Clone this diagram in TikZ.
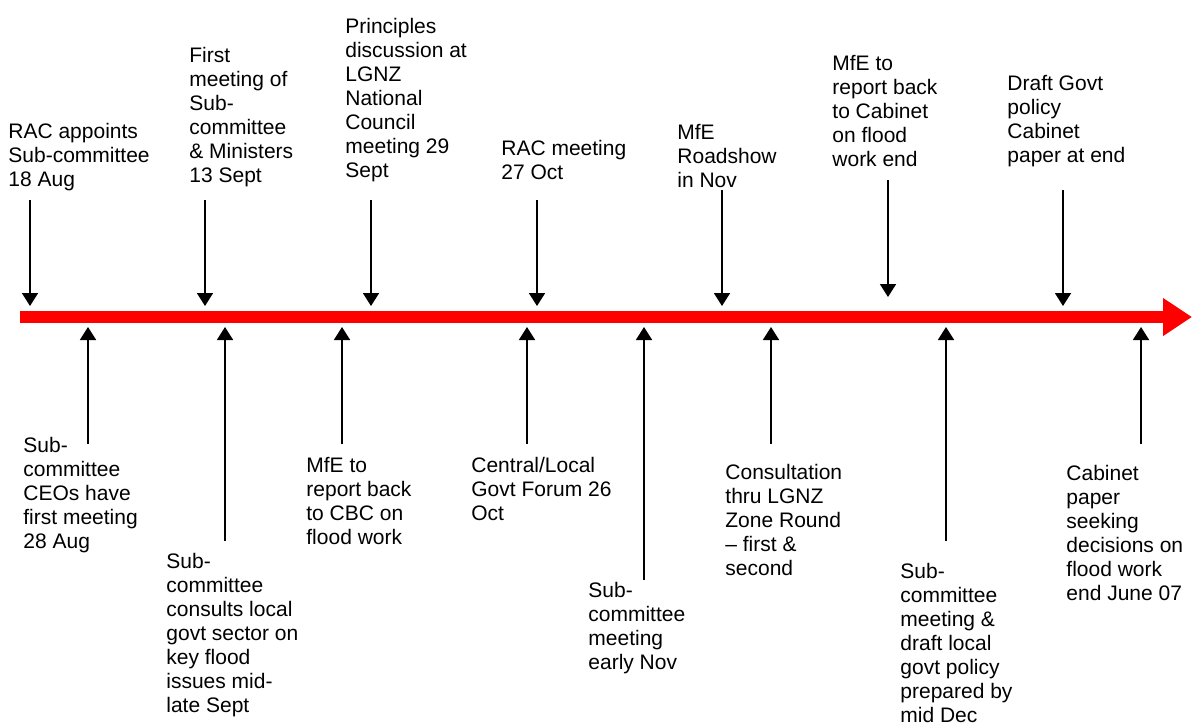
\documentclass[tikz,border=0pt]{standalone}
\usepackage{fontspec}
\setmainfont{Liberation Sans}
\usetikzlibrary{arrows.meta}

\begin{document}
\begin{tikzpicture}[x=0.5pt,y=-0.5pt,
  lbl/.style={anchor=north west,inner sep=0pt,align=left,font=\fontsize{10.5pt}{12pt}\selectfont},
  evt/.style={line width=0.9pt,-{Triangle[length=6.5pt,width=8pt]}},
  timeline/.style={line width=6pt,red,-{Triangle[length=14.5pt,width=18pt]}}]
\useasboundingbox (0,0) rectangle (1192,724);
\coordinate (start) at (20,317);
\coordinate (finish) at (1192,317);
\draw [timeline] (start) -- (finish);
\node [lbl] (rac) at (8,123) {RAC appoints\\Sub-committee\\18 Aug};
\coordinate (rac top) at (30,200);
\coordinate (rac tip) at (30,306);
\draw [evt] (rac top) -- (rac tip);
\node [lbl] (firstmeet) at (189,47) {First\\meeting of\\Sub-\\committee\\\& Ministers\\13 Sept};
\coordinate (firstmeet top) at (205,200);
\coordinate (firstmeet tip) at (205,306);
\draw [evt] (firstmeet top) -- (firstmeet tip);
\node [lbl] (principles) at (345,18) {Principles\\discussion at\\LGNZ\\National\\Council\\meeting 29\\Sept};
\coordinate (principles top) at (371,200);
\coordinate (principles tip) at (371,306);
\draw [evt] (principles top) -- (principles tip);
\node [lbl] (racmeet) at (501,140) {RAC meeting\\27 Oct};
\coordinate (racmeet top) at (537,200);
\coordinate (racmeet tip) at (537,306);
\draw [evt] (racmeet top) -- (racmeet tip);
\node [lbl] (roadshow) at (677,124) {MfE\\Roadshow\\in Nov};
\coordinate (roadshow top) at (722,190);
\coordinate (roadshow tip) at (722,306);
\draw [evt] (roadshow top) -- (roadshow tip);
\node [lbl] (cabreport) at (832,55) {MfE to\\report back\\to Cabinet\\on flood\\work end};
\coordinate (cabreport top) at (888,180);
\coordinate (cabreport tip) at (888,297);
\draw [evt] (cabreport top) -- (cabreport tip);
\node [lbl] (draftpolicy) at (1007,75) {Draft Govt\\policy\\Cabinet\\paper at end};
\coordinate (draftpolicy top) at (1063,190);
\coordinate (draftpolicy tip) at (1063,306);
\draw [evt] (draftpolicy top) -- (draftpolicy tip);
\node [lbl] (ceos) at (23,437) {Sub-\\committee\\CEOs have\\first meeting\\28 Aug};
\coordinate (ceos foot) at (88,444);
\coordinate (ceos tip) at (88,327);
\draw [evt] (ceos foot) -- (ceos tip);
\node [lbl] (consults) at (166,553) {Sub-\\committee\\consults local\\govt sector on\\key flood\\issues mid-\\late Sept};
\coordinate (consults foot) at (225,541);
\coordinate (consults tip) at (225,327);
\draw [evt] (consults foot) -- (consults tip);
\node [lbl] (cbcreport) at (306,457) {MfE to\\report back\\to CBC on\\flood work};
\coordinate (cbcreport foot) at (342,444);
\coordinate (cbcreport tip) at (342,327);
\draw [evt] (cbcreport foot) -- (cbcreport tip);
\node [lbl] (forum) at (471,457) {Central/Local\\Govt Forum 26\\Oct};
\coordinate (forum foot) at (527,444);
\coordinate (forum tip) at (527,327);
\draw [evt] (forum foot) -- (forum tip);
\node [lbl] (novmeet) at (588,582) {Sub-\\committee\\meeting\\early Nov};
\coordinate (novmeet foot) at (644,580);
\coordinate (novmeet tip) at (644,327);
\draw [evt] (novmeet foot) -- (novmeet tip);
\node [lbl] (zoneround) at (725,464) {Consultation\\thru LGNZ\\Zone Round\\– first \&\\second};
\coordinate (zoneround foot) at (771,444);
\coordinate (zoneround tip) at (771,327);
\draw [evt] (zoneround foot) -- (zoneround tip);
\node [lbl] (decmeet) at (900,563) {Sub-\\committee\\meeting \&\\draft local\\govt policy\\prepared by\\mid Dec};
\coordinate (decmeet foot) at (946,541);
\coordinate (decmeet tip) at (946,327);
\draw [evt] (decmeet foot) -- (decmeet tip);
\node [lbl] (cabpaper) at (1066,465) {Cabinet\\paper\\seeking\\decisions on\\flood work\\end June 07};
\coordinate (cabpaper foot) at (1141,444);
\coordinate (cabpaper tip) at (1141,327);
\draw [evt] (cabpaper foot) -- (cabpaper tip);
\end{tikzpicture}
\end{document}
